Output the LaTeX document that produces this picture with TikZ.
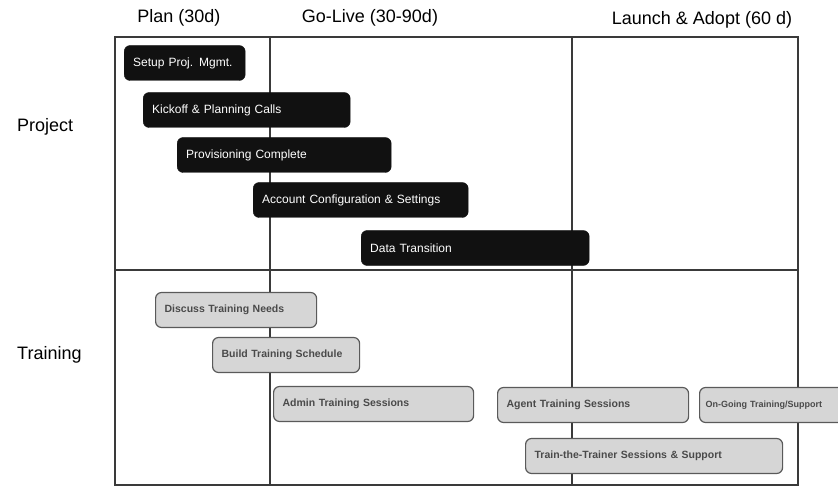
\documentclass[tikz,border=0pt]{standalone}
\usepackage{fontspec}
\setmainfont{Liberation Sans}
\usetikzlibrary{positioning}
\definecolor{gridink}{HTML}{3A3A3A}
\definecolor{barink}{HTML}{111111}
\definecolor{trainfill}{HTML}{D6D6D6}
\definecolor{trainedge}{HTML}{5A5A5A}
\definecolor{traintext}{HTML}{4A4A4A}

\begin{document}
\begin{tikzpicture}[
  x=1pt,
  y=-1pt,
  every node/.style={font=\fontsize{18}{20}\selectfont, black},
  grid/.style={gridink, line width=1.1pt},
  phase/.style={anchor=center, inner sep=0pt},
  lane/.style={anchor=west, inner sep=0pt},
  projbar/.style={anchor=west, fill=barink, draw=barink, rounded corners=6pt,
                  text=white, font=\fontsize{12}{14}\selectfont,
                  minimum height=35pt, inner xsep=9pt, align=left,
                  text width={#1-18pt}},
  trainbar/.style={anchor=west, fill=trainfill, draw=trainedge, line width=1.2pt,
                   rounded corners=6pt, text=traintext,
                   font=\fontsize{10.5}{12}\selectfont\bfseries,
                   minimum height=35pt, inner xsep=9pt, align=left,
                   text width={#1-18pt}}
]
  \clip (0,0) rectangle (838,489);
  \fill[white] (0,0) rectangle (838,489);

  % ---- frame and dividers ----------------------------------------------
  \draw[grid] (115,37) rectangle (798,485);
  \draw[grid] (270,37) -- (270,485);
  \draw[grid] (572,37) -- (572,485);
  \draw[grid] (115,270) -- (798,270);

  % ---- phase headings --------------------------------------------------
  \node[phase] (plan) at (179,18) {Plan (30d)};
  \node[phase] (golive) at (370,18) {Go-Live (30-90d)};
  \node[phase] (launch) at (702,20) {Launch \& Adopt (60 d)};

  % ---- lane labels -----------------------------------------------------
  \node[lane] (project) at (17,127) {Project};
  \node[lane] (training) at (17,355) {Training};

  % ---- project bars ----------------------------------------------------
  \node[projbar=121pt] (setup) at (124,63) {Setup Proj. Mgmt.};
  \node[projbar=207pt] (kickoff) at (143,110) {Kickoff \& Planning Calls};
  \node[projbar=214pt] (provision) at (177,155) {Provisioning Complete};
  \node[projbar=215pt] (account) at (253,200) {Account Configuration \& Settings};
  \node[projbar=228pt] (datatrans) at (361,248) {Data Transition};

  % ---- training bars ---------------------------------------------------
  % the last bar of the row runs past the right edge, as in the source
  \node[trainbar=161pt] (needs) at (155,310) {\mbox{Discuss Training Needs}};
  \node[trainbar=147pt] (schedule) at (212,355) {\mbox{Build Training Schedule}};
  \node[trainbar=200pt] (admin) at (273,404) {\mbox{Admin Training Sessions}};
  \node[trainbar=191pt] (agent) at (497,405) {\mbox{Agent Training Sessions}};
  \node[trainbar=150pt, inner xsep=6pt, font=\fontsize{9}{11}\selectfont\bfseries]
    (ongoing) at (699,405) {\mbox{On-Going Training/Support}};
  \node[trainbar=257pt] (trainer) at (525,456) {\mbox{Train-the-Trainer Sessions \& Support}};
\end{tikzpicture}
\end{document}
